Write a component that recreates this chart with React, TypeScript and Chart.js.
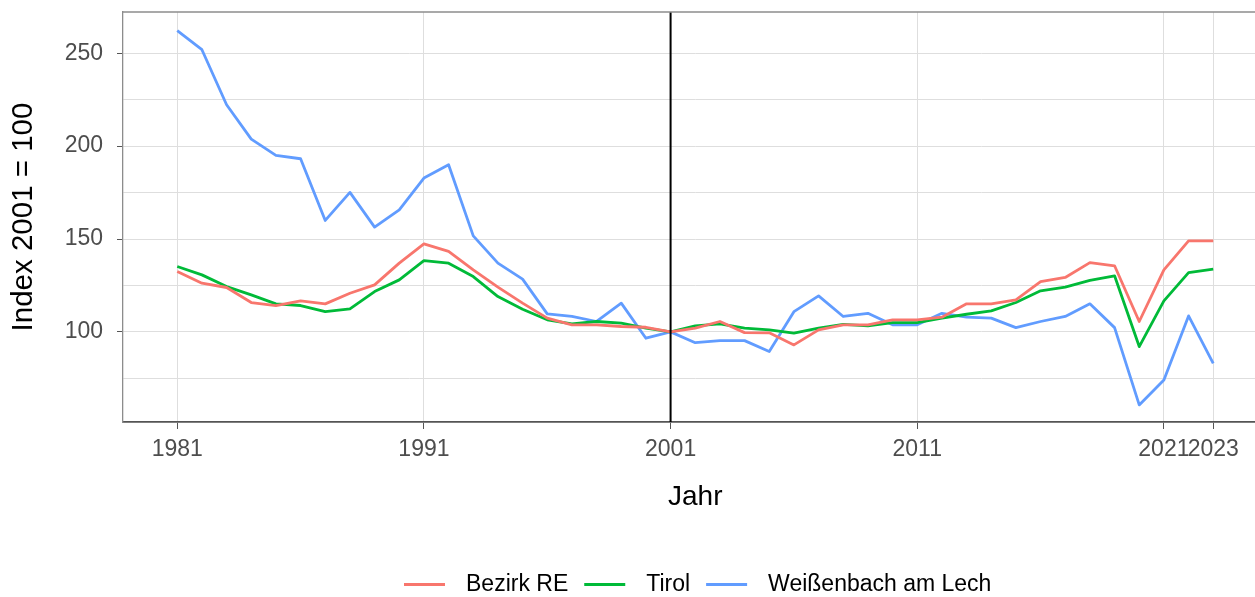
import React, { useEffect, useRef } from "react";
import { Chart, registerables } from "chart.js";

Chart.register(...registerables);

const years = [
  1981, 1982, 1983, 1984, 1985, 1986, 1987, 1988, 1989, 1990,
  1991, 1992, 1993, 1994, 1995, 1996, 1997, 1998, 1999, 2000,
  2001, 2002, 2003, 2004, 2005, 2006, 2007, 2008, 2009, 2010,
  2011, 2012, 2013, 2014, 2015, 2016, 2017, 2018, 2019, 2020,
  2021, 2022, 2023,
];

const bezirkRE = [
  132.5, 126.2, 123.9, 115.8, 114.2, 116.7, 115.1, 120.8, 125.3, 137.0,
  147.4, 143.3, 133.4, 124.1, 115.5, 107.4, 103.8, 103.8, 102.9, 102.5,
  100.0, 102.0, 105.6, 99.6, 99.5, 93.0, 101.1, 103.8, 103.8, 106.5,
  106.5, 107.9, 115.1, 115.1, 117.2, 127.1, 129.3, 137.3, 135.6, 105.6,
  133.4, 149.0, 149.0,
];

const tirol = [
  135.2, 130.7, 124.4, 119.9, 115.1, 114.2, 110.9, 112.4, 121.7, 128.0,
  138.4, 137.0, 129.8, 119.0, 112.2, 106.5, 104.3, 105.6, 104.7, 102.0,
  100.0, 103.2, 104.3, 102.0, 101.1, 99.3, 102.0, 104.1, 103.2, 105.0,
  105.0, 107.4, 109.5, 111.3, 115.8, 122.1, 124.1, 127.7, 130.2, 92.1,
  116.7, 131.9, 133.8,
];

const weissenbach = [
  262.2, 251.9, 222.3, 203.8, 195.0, 193.2, 160.0, 175.1, 156.4, 165.7,
  182.8, 190.0, 151.7, 137.0, 128.4, 109.7, 108.3, 105.6, 115.5, 96.6,
  100.0, 94.2, 95.3, 95.3, 89.4, 110.9, 119.4, 108.3, 110.0, 103.8,
  103.8, 110.0, 107.9, 107.4, 102.3, 105.6, 108.3, 115.1, 102.3, 60.7,
  74.1, 108.6, 83.1,
];

const seriesNames = ["Bezirk RE", "Tirol", "Weißenbach am Lech"];
const seriesColors = ["#F8766D", "#00BA38", "#619CFF"];

const xTicks = [1981, 1991, 2001, 2011, 2021, 2023];
const yTicks = [75, 100, 125, 150, 175, 200, 225, 250];
const yLabelStep = 50;
const referenceYear = 2001;

const xTitle = "Jahr";
const yTitle = "Index 2001 = 100";

const FONT = '"Liberation Sans", Arial, sans-serif';

const decorations = {
  id: "decorations",
  afterDatasetsDraw(chart: any) {
    const { ctx, chartArea, scales } = chart;
    const x = scales.x.getPixelForValue(referenceYear);
    ctx.save();
    ctx.strokeStyle = "#000000";
    ctx.lineWidth = 2;
    ctx.beginPath();
    ctx.moveTo(x, chartArea.top);
    ctx.lineTo(x, chartArea.bottom);
    ctx.stroke();
    ctx.strokeStyle = "#8c8c8c";
    ctx.lineWidth = 1.3;
    ctx.beginPath();
    ctx.moveTo(chartArea.left, chartArea.top);
    ctx.lineTo(chartArea.right, chartArea.top);
    ctx.stroke();
    ctx.restore();
  },
  afterDraw(chart: any) {
    const { ctx } = chart;
    ctx.save();
    ctx.font = `23px ${FONT}`;
    ctx.textBaseline = "middle";
    ctx.textAlign = "left";
    let x = 404;
    const y = 584.5;
    chart.data.datasets.forEach((ds: any) => {
      ctx.strokeStyle = ds.borderColor;
      ctx.lineWidth = 3;
      ctx.beginPath();
      ctx.moveTo(x, y);
      ctx.lineTo(x + 41, y);
      ctx.stroke();
      ctx.fillStyle = "#000000";
      ctx.fillText(ds.label, x + 62, y);
      x += 62 + ctx.measureText(ds.label).width + 16;
    });
    ctx.restore();
  },
};

export default function App() {
  const canvasRef = useRef<HTMLCanvasElement | null>(null);

  useEffect(() => {
    if (!canvasRef.current) return;
    const seriesValues = [bezirkRE, tirol, weissenbach];
    const chart = new Chart(canvasRef.current, {
      type: "line",
      data: {
        datasets: seriesNames.map((name, i) => ({
          label: name,
          data: years.map((yr, j) => ({ x: yr, y: seriesValues[i][j] })),
          borderColor: seriesColors[i],
          backgroundColor: seriesColors[i],
          borderWidth: 2.8,
          pointRadius: 0,
          tension: 0,
          borderJoinStyle: "round",
          fill: false,
        })),
      },
      options: {
        animation: false,
        responsive: false,
        devicePixelRatio: 1,
        layout: { padding: { left: 0, top: 12, right: 22.5, bottom: 60 } },
        plugins: {
          legend: { display: false },
          tooltip: { enabled: false },
        },
        scales: {
          x: {
            type: "linear",
            min: 1978.8,
            max: 2025.2,
            afterBuildTicks: (scale: any) => {
              scale.ticks = xTicks.map((v) => ({ value: v }));
            },
            afterFit: (scale: any) => {
              scale.height = 115;
              scale.paddingLeft = 0;
              scale.paddingRight = 0;
            },
            ticks: {
              autoSkip: false,
              maxRotation: 0,
              minRotation: 0,
              padding: 7,
              color: "#4d4d4d",
              font: { family: FONT, size: 23 },
              callback: (v: any) => String(v),
            },
            grid: {
              color: "#dedede",
              lineWidth: 1,
              drawTicks: true,
              tickLength: 7,
              tickColor: "#555555",
            },
            border: { display: true, color: "#555555", width: 1.8 },
            title: {
              display: true,
              text: xTitle,
              color: "#000000",
              font: { family: FONT, size: 28 },
              padding: { top: 0, bottom: 23 },
            },
          },
          y: {
            type: "linear",
            min: 51.5,
            max: 272.2,
            afterBuildTicks: (scale: any) => {
              scale.ticks = yTicks.map((v) => ({ value: v }));
            },
            afterFit: (scale: any) => {
              scale.width = 123;
              scale.paddingTop = 0;
              scale.paddingBottom = 0;
            },
            ticks: {
              padding: 14,
              color: "#4d4d4d",
              font: { family: FONT, size: 23 },
              callback: (v: any) => (v % yLabelStep === 0 ? String(v) : ""),
            },
            grid: {
              color: "#dedede",
              lineWidth: 1,
              drawTicks: true,
              tickLength: 6,
              tickColor: (ctx: any) =>
                ctx.tick && ctx.tick.value % yLabelStep === 0 ? "#555555" : "rgba(0,0,0,0)",
            },
            border: { display: true, color: "#8c8c8c", width: 1.3 },
            title: {
              display: true,
              text: yTitle,
              color: "#000000",
              font: { family: FONT, size: 29.5 },
              padding: { top: 6, bottom: 0 },
            },
          },
        },
      },
      plugins: [decorations],
    } as any);
    return () => chart.destroy();
  }, []);

  return (
    <div
      style={{
        position: "fixed",
        left: 0,
        top: 0,
        width: 1290,
        height: 597,
        overflow: "hidden",
        background: "#ffffff",
      }}
    >
      <canvas ref={canvasRef} width={1290} height={597} style={{ display: "block" }} />
    </div>
  );
}
